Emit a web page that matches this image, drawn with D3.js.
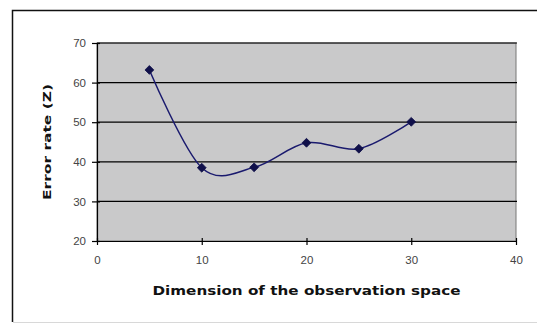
<!DOCTYPE html>
<html>
<head>
<meta charset="utf-8">
<script src="https://cdn.jsdelivr.net/npm/d3@7"></script>
<style>
  html, body { margin: 0; padding: 0; background: #fff; }
  svg { display: block; }
</style>
</head>
<body>
<svg id="chart" width="537" height="324"></svg>
<script>
// Error rate against the dimension of the observation space
const dimensions = [5, 10, 15, 20, 25, 30];
const errorRates = [63.2, 38.5, 38.6, 44.8, 43.3, 50.1];
const xTicks = [0, 10, 20, 30, 40];
const yTicks = [20, 30, 40, 50, 60, 70];
const xTitle = "Dimension of the observation space";
const yTitle = "Error rate (Z)";

const svg = d3.select("#chart");
const plot = { left: 97, top: 43, right: 516, bottom: 241 };

const x = d3.scaleLinear().domain([0, 40]).range([plot.left, plot.right]);
const y = d3.scaleLinear().domain([20, 70]).range([plot.bottom, plot.top]);

// chart frame: dark top and left edges, pale bottom edge
svg.append("path")
  .attr("d", "M12.5,322 V10.5 H537")
  .attr("fill", "none")
  .attr("stroke", "#111").attr("stroke-width", 1.5);
svg.append("line")
  .attr("x1", 13).attr("x2", 537).attr("y1", 322.5).attr("y2", 322.5)
  .attr("stroke", "#d8d8d8").attr("stroke-width", 1);

// plot area
svg.append("rect")
  .attr("x", plot.left).attr("y", plot.top)
  .attr("width", plot.right - plot.left).attr("height", plot.bottom - plot.top)
  .attr("fill", "#c9c9ca")
  .attr("stroke", "#777").attr("stroke-width", 1);

// horizontal gridlines
svg.append("g")
  .selectAll("line")
  .data(yTicks.filter(d => d > 20))
  .join("line")
  .attr("x1", plot.left).attr("x2", plot.right + 1)
  .attr("y1", d => y(d)).attr("y2", d => y(d))
  .attr("stroke", "#000").attr("stroke-width", 1.2);

// axes
const yAxis = svg.append("g")
  .attr("transform", `translate(${plot.left},0)`)
  .call(d3.axisLeft(y).tickValues(yTicks).tickSizeInner(5).tickSizeOuter(0).tickPadding(6));
const xAxis = svg.append("g")
  .attr("transform", `translate(0,${plot.bottom})`)
  .call(d3.axisBottom(x).tickValues(xTicks).tickSizeInner(4).tickSizeOuter(0).tickPadding(11));

[yAxis, xAxis].forEach(a => {
  a.select(".domain").attr("stroke", "#000").attr("stroke-width", 1.2);
  a.selectAll(".tick line").attr("stroke", "#000").attr("stroke-width", 1.2);
  a.selectAll(".tick text")
    .attr("fill", "#444")
    .style("font-family", "Liberation Sans, Arial, sans-serif")
    .style("font-size", "11.5px");
});
// ticks cross the axis line
yAxis.selectAll(".tick line").attr("x1", 3);
xAxis.selectAll(".tick line").attr("y1", -3);

// smoothed series line
const line = d3.line()
  .x((d, i) => x(dimensions[i]))
  .y(d => y(d))
  .curve(d3.curveCatmullRom.alpha(0));

svg.append("path")
  .datum(errorRates)
  .attr("d", line)
  .attr("fill", "none")
  .attr("stroke", "#1a1a6e")
  .attr("stroke-width", 1.5);

// diamond markers
svg.append("g")
  .selectAll("path")
  .data(errorRates)
  .join("path")
  .attr("transform", (d, i) => `translate(${x(dimensions[i])},${y(d)})`)
  .attr("d", d3.symbol(d3.symbolDiamond2, 50))
  .attr("fill", "#10104a")
  .attr("stroke", "#10104a")
  .attr("stroke-width", 0.8);

// axis titles
svg.append("text")
  .attr("x", (plot.left + plot.right) / 2)
  .attr("y", 295)
  .attr("text-anchor", "middle")
  .attr("textLength", 308)
  .attr("lengthAdjust", "spacingAndGlyphs")
  .style("font-family", "DejaVu Sans, sans-serif")
  .style("font-weight", "bold")
  .style("font-size", "12px")
  .attr("fill", "#111")
  .text(xTitle);

svg.append("text")
  .attr("transform", `translate(51,${(plot.top + plot.bottom) / 2}) rotate(-90)`)
  .attr("text-anchor", "middle")
  .attr("textLength", 116)
  .attr("lengthAdjust", "spacingAndGlyphs")
  .style("font-family", "DejaVu Sans, sans-serif")
  .style("font-weight", "bold")
  .style("font-size", "11px")
  .attr("fill", "#111")
  .text(yTitle);
</script>
</body>
</html>
